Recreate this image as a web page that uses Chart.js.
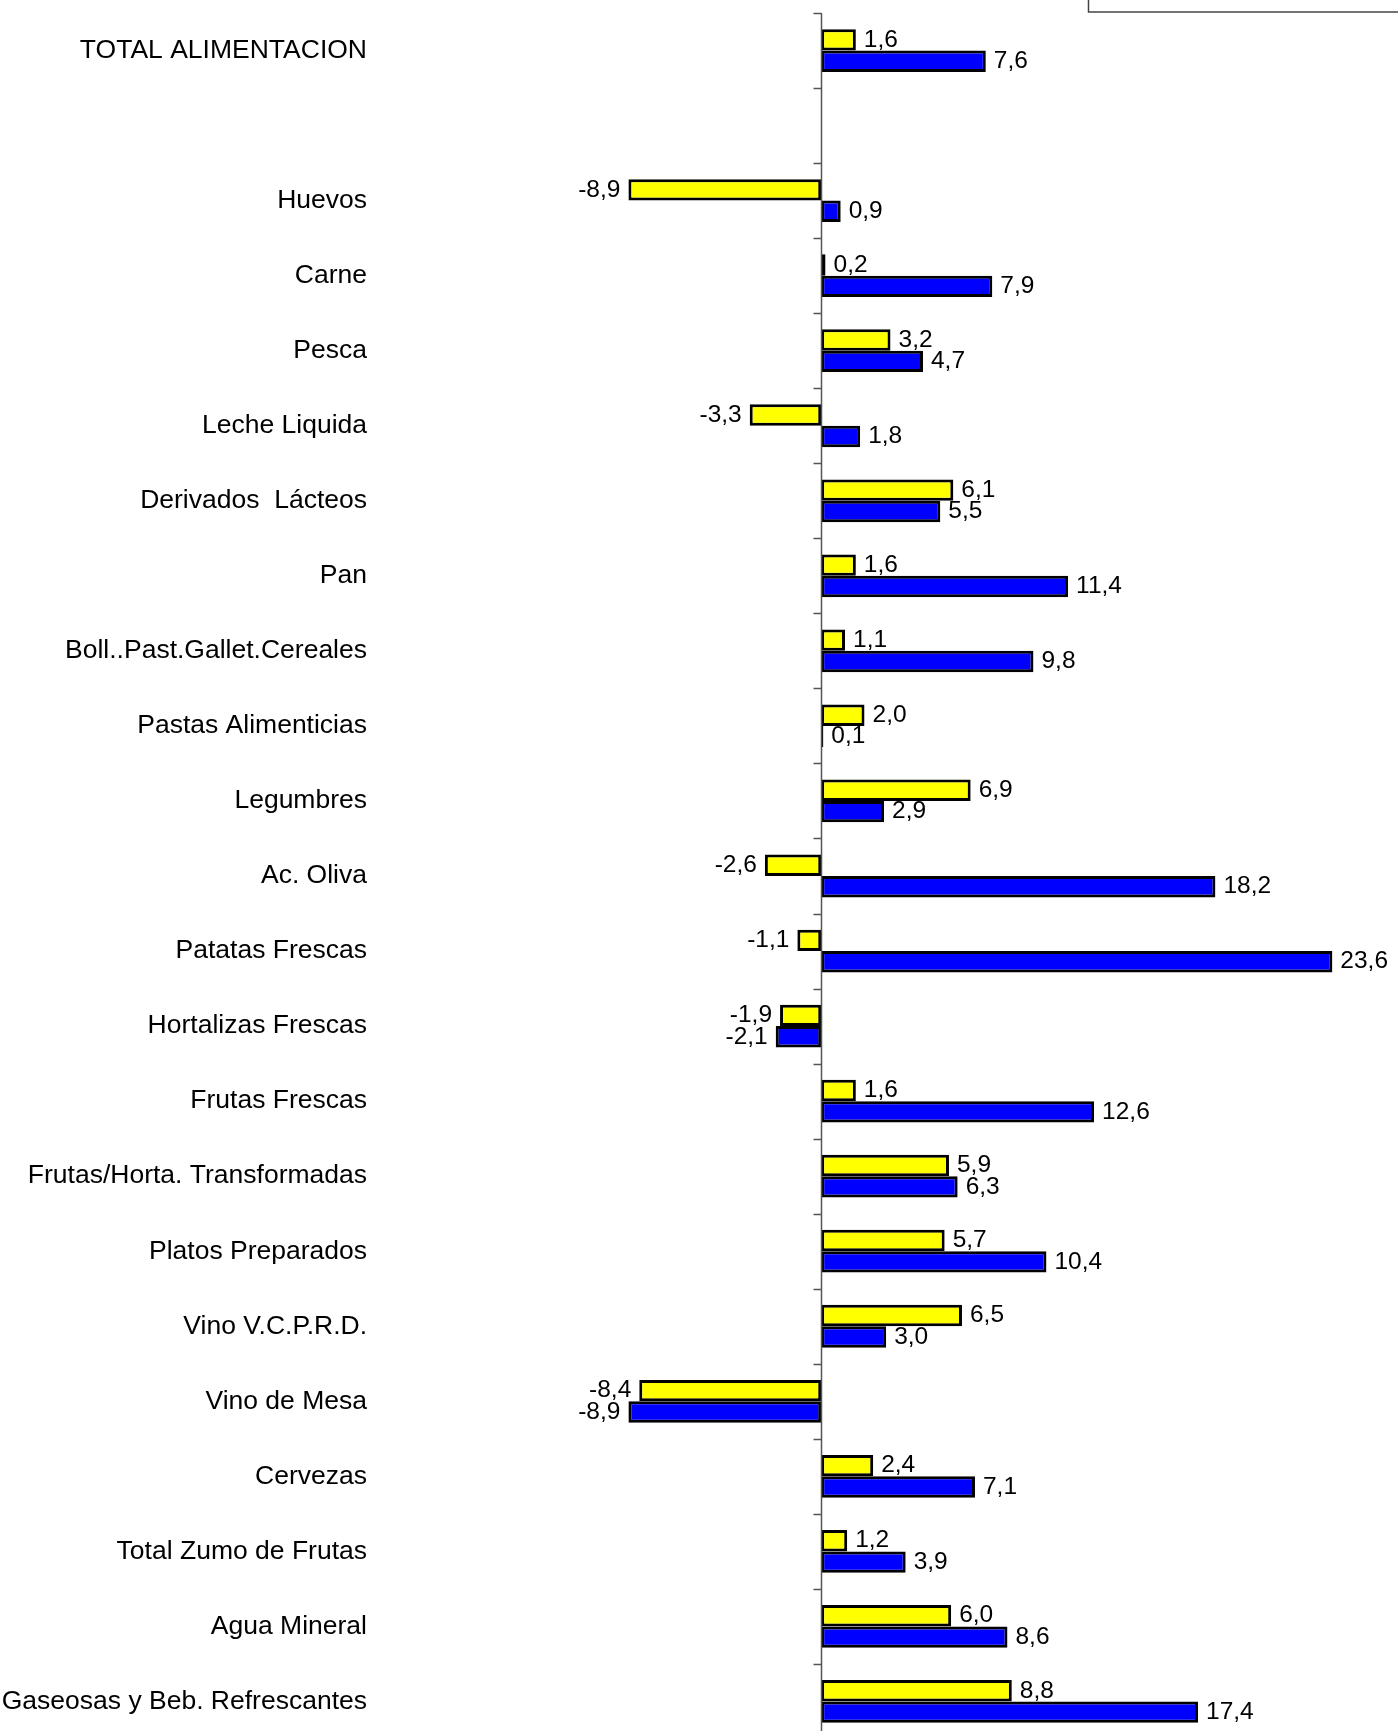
<!DOCTYPE html>
<html>
<head>
<meta charset="utf-8">
<script src="https://cdn.jsdelivr.net/npm/chart.js@4/dist/chart.umd.min.js"></script>
<style>
  html, body { margin: 0; padding: 0; background: #fff; overflow: hidden; }
  #wrap { width: 1398px; height: 1752px; }
</style>
</head>
<body>
<div id="wrap"><canvas id="myChart"></canvas></div>
<script>
// categories (the second one is an empty gap row)
const categories = [
  "TOTAL ALIMENTACION", "",
  "Huevos", "Carne", "Pesca", "Leche Liquida", "Derivados  Lácteos", "Pan",
  "Boll..Past.Gallet.Cereales", "Pastas Alimenticias", "Legumbres", "Ac. Oliva",
  "Patatas Frescas", "Hortalizas Frescas", "Frutas Frescas",
  "Frutas/Horta. Transformadas", "Platos Preparados", "Vino V.C.P.R.D.",
  "Vino de Mesa", "Cervezas", "Total Zumo de Frutas", "Agua Mineral",
  "Gaseosas y Beb. Refrescantes"
];
const yellowValues = [1.6, null, -8.9, 0.2, 3.2, -3.3, 6.1, 1.6, 1.1, 2.0, 6.9, -2.6,
  -1.1, -1.9, 1.6, 5.9, 5.7, 6.5, -8.4, 2.4, 1.2, 6.0, 8.8];
const blueValues = [7.6, null, 0.9, 7.9, 4.7, 1.8, 5.5, 11.4, 9.8, 0.1, 2.9, 18.2,
  23.6, -2.1, 12.6, 6.3, 10.4, 3.0, -8.9, 7.1, 3.9, 8.6, 17.4];

const FONT = "Arial, 'Liberation Sans', sans-serif";

// zero line with small ticks on the left, at category boundaries
const zeroAxis = {
  id: "zeroAxis",
  afterDatasetsDraw(c) {
    const ctx = c.ctx, x = c.scales.x, y = c.scales.y;
    const x0 = Math.round(x.getPixelForValue(0)) + 0.5;
    const step = (y.bottom - y.top) / categories.length;
    ctx.save();
    ctx.strokeStyle = "#555";
    ctx.lineWidth = 1.5;
    ctx.beginPath();
    ctx.moveTo(x0, y.top);
    ctx.lineTo(x0, y.bottom);
    for (let i = 0; i <= categories.length; i++) {
      const ty = Math.round(y.top + i * step) + 0.5;
      ctx.moveTo(x0 - 8, ty);
      ctx.lineTo(x0, ty);
    }
    ctx.stroke();
    ctx.restore();
  }
};

// value labels next to each bar end
const valueLabels = {
  id: "valueLabels",
  afterDatasetsDraw(c) {
    const ctx = c.ctx;
    ctx.save();
    ctx.font = "24.5px " + FONT;
    ctx.fillStyle = "#000";
    ctx.textBaseline = "middle";
    c.data.datasets.forEach((ds, di) => {
      c.getDatasetMeta(di).data.forEach((bar, i) => {
        const v = ds.data[i];
        if (v === null || v === undefined) return;
        const txt = v.toFixed(1).replace(".", ",");
        if (v >= 0) {
          ctx.textAlign = "left";
          ctx.fillText(txt, bar.x + 8, bar.y);
        } else {
          ctx.textAlign = "right";
          ctx.fillText(txt, bar.x - 8, bar.y);
        }
      });
    });
    ctx.restore();
  }
};

// legend frame, mostly cut off at the top of the picture
const legendFrame = {
  id: "legendFrame",
  afterDraw(c) {
    const ctx = c.ctx;
    ctx.save();
    ctx.strokeStyle = "#444";
    ctx.lineWidth = 1.5;
    ctx.strokeRect(1088.5, -20, 320, 32);
    ctx.restore();
  }
};

const chart = new Chart(document.getElementById("myChart"), {
  type: "bar",
  data: {
    labels: categories,
    datasets: [
      {
        label: "yellow",
        data: yellowValues,
        backgroundColor: "#ffff00",
        borderColor: "#000",
        borderWidth: 3,
        borderSkipped: false
      },
      {
        label: "blue",
        data: blueValues,
        backgroundColor: "#0000ff",
        borderColor: "#000",
        borderWidth: 3,
        borderSkipped: false
      }
    ]
  },
  options: {
    indexAxis: "y",
    responsive: true,
    maintainAspectRatio: false,
    animation: false,
    categoryPercentage: 0.57,
    barPercentage: 1.0,
    layout: { padding: { top: 13, bottom: 13, right: 18, left: 0 } },
    plugins: {
      legend: { display: false },
      tooltip: { enabled: false }
    },
    scales: {
      x: {
        display: false,
        min: -20.37,
        max: 25.8
      },
      y: {
        grid: { display: false },
        border: { display: false },
        ticks: {
          color: "#000",
          padding: 5,
          font: { size: 26.5, family: FONT },
          autoSkip: false
        },
        afterFit(scale) {
          scale.width = 380;
          scale.paddingTop = 0;
          scale.paddingBottom = 0;
        }
      }
    }
  },
  plugins: [zeroAxis, valueLabels, legendFrame]
});
</script>
</body>
</html>
